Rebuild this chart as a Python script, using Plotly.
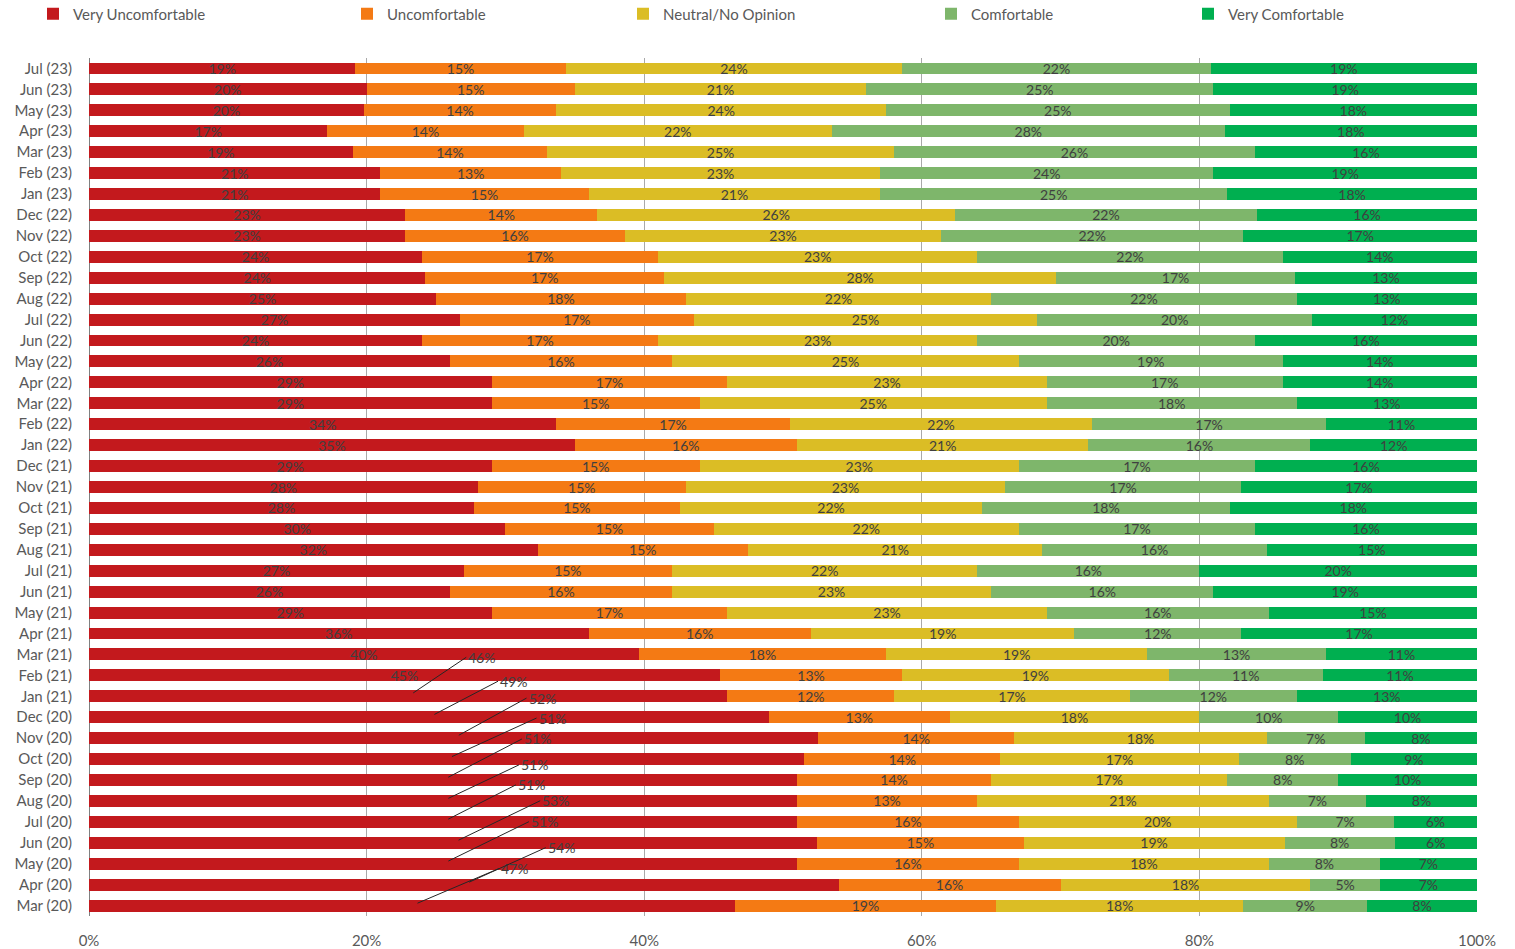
import plotly.graph_objects as go

months = [
    "Mar (20)", "Apr (20)", "May (20)", "Jun (20)", "Jul (20)", "Aug (20)", "Sep (20)", "Oct (20)",
    "Nov (20)", "Dec (20)", "Jan (21)", "Feb (21)", "Mar (21)", "Apr (21)", "May (21)", "Jun (21)",
    "Jul (21)", "Aug (21)", "Sep (21)", "Oct (21)", "Nov (21)", "Dec (21)", "Jan (22)", "Feb (22)",
    "Mar (22)", "Apr (22)", "May (22)", "Jun (22)", "Jul (22)", "Aug (22)", "Sep (22)", "Oct (22)",
    "Nov (22)", "Dec (22)", "Jan (23)", "Feb (23)", "Mar (23)", "Apr (23)", "May (23)", "Jun (23)",
    "Jul (23)",
]

very_uncomfortable = [47, 54, 51, 53, 51, 51, 51, 51, 52, 49, 46, 45, 40, 36, 29, 26, 27, 32, 30, 28, 28,
                      29, 35, 34, 29, 29, 26, 24, 27, 25, 24, 24, 23, 23, 21, 21, 19, 17, 20, 20, 19]
uncomfortable = [19, 16, 16, 15, 16, 13, 14, 14, 14, 13, 12, 13, 18, 16, 17, 16, 15, 15, 15, 15, 15,
                 15, 16, 17, 15, 17, 16, 17, 17, 18, 17, 17, 16, 14, 15, 13, 14, 14, 14, 15, 15]
neutral = [18, 18, 18, 19, 20, 21, 17, 17, 18, 18, 17, 19, 19, 19, 23, 23, 22, 21, 22, 22, 23,
           23, 21, 22, 25, 23, 25, 23, 25, 22, 28, 23, 23, 26, 21, 23, 25, 22, 24, 21, 24]
comfortable = [9, 5, 8, 8, 7, 7, 8, 8, 7, 10, 12, 11, 13, 12, 16, 16, 16, 16, 17, 18, 17,
               17, 16, 17, 18, 17, 19, 20, 20, 22, 17, 22, 22, 22, 25, 24, 26, 28, 25, 25, 22]
very_comfortable = [8, 7, 7, 6, 6, 8, 10, 9, 8, 10, 13, 11, 11, 17, 15, 19, 20, 15, 16, 18, 17,
                    16, 12, 11, 13, 14, 14, 16, 12, 13, 13, 14, 17, 16, 18, 19, 16, 18, 18, 19, 19]

series_names = ["Very Uncomfortable", "Uncomfortable", "Neutral/No Opinion", "Comfortable", "Very Comfortable"]
x_ticks = [0, 20, 40, 60, 80, 100]

# months whose "Very Uncomfortable" label is drawn as a callout with a leader line
callout_months = ["Mar (20)", "Apr (20)", "May (20)", "Jun (20)", "Jul (20)", "Aug (20)",
                  "Sep (20)", "Oct (20)", "Nov (20)", "Dec (20)", "Jan (21)"]
# pixel offsets (ax, ay) of each callout label from its bar
callout_offsets = [(87, -37), (82, -37), (86, -42), (87, -42), (73, -37), (76, -36),
                   (79, -41), (90, -41), (73, -40), (69, -36), (58, -39)]

colors = ["#C3191D", "#F47A14", "#DBBD25", "#7EB66B", "#00AF50"]
FONT = "Lato"
TEXT_COLOR = "#404040"

all_series = [very_uncomfortable, uncomfortable, neutral, comfortable, very_comfortable]
legend_ids = ["legend", "legend2", "legend3", "legend4", "legend5"]
legend_text_x = [73, 387, 663, 971, 1228]

fig = go.Figure()
for i, (name, vals) in enumerate(zip(series_names, all_series)):
    if i == 0:
        texts = ["" if m in callout_months else f"{v}%" for m, v in zip(months, vals)]
    else:
        texts = [f"{v}%" for v in vals]
    fig.add_trace(go.Bar(
        y=months, x=vals, name=name, orientation="h",
        marker=dict(color=colors[i], line=dict(width=0)),
        text=texts, texttemplate="%{text}", textposition="inside",
        insidetextanchor="middle", constraintext="none", textangle=0,
        textfont=dict(family=FONT, size=14, color=TEXT_COLOR),
        legend=legend_ids[i],
    ))

# callout annotations for the red segments
annotations = []
for m, (ax, ay) in zip(callout_months, callout_offsets):
    idx = months.index(m)
    total = sum(s[idx] for s in all_series)
    red = very_uncomfortable[idx]
    annotations.append(dict(
        x=red / total * 100 / 2, y=m, xref="x", yref="y",
        text=f"{red}%", showarrow=True, arrowhead=0, arrowwidth=1, arrowcolor="#262626",
        ax=ax, ay=ay, xanchor="left", yanchor="middle", standoff=6,
        font=dict(family=FONT, size=14, color=TEXT_COLOR),
    ))

layout_legends = {}
for lid, tx in zip(legend_ids, legend_text_x):
    layout_legends[lid] = dict(
        x=(tx - 40) / 1515, xref="container", xanchor="left",
        y=1 - 14 / 949, yref="container", yanchor="middle",
        orientation="h", bgcolor="rgba(0,0,0,0)", borderwidth=0,
        font=dict(family=FONT, size=15, color="#595959"),
    )

fig.update_layout(
    width=1515, height=949,
    barmode="stack", barnorm="percent", bargap=0.43,
    plot_bgcolor="white", paper_bgcolor="white",
    margin=dict(l=89, r=38, t=58, b=33, autoexpand=False),
    font=dict(family=FONT, size=15, color="#595959"),
    xaxis=dict(
        range=[0, 100], tickvals=x_ticks, ticktext=[f"{t}%" for t in x_ticks],
        showgrid=True, gridcolor="#A9A9A9", gridwidth=1,
        zeroline=True, zerolinecolor="#808080", zerolinewidth=1,
        showline=False, ticks="", ticklabelstandoff=14, automargin=False,
        tickfont=dict(family=FONT, size=15, color="#595959"),
    ),
    yaxis=dict(
        type="category", categoryorder="array", categoryarray=months,
        range=[-0.5, len(months) - 0.5],
        showgrid=False, zeroline=False, showline=False, ticks="",
        ticklabelstandoff=16, automargin=False,
        tickfont=dict(family=FONT, size=15, color="#595959"),
    ),
    annotations=annotations,
    showlegend=True,
    **layout_legends,
)

fig.write_html("out.html", config={"displayModeBar": False},
               post_script="document.body.style.margin='0';")
